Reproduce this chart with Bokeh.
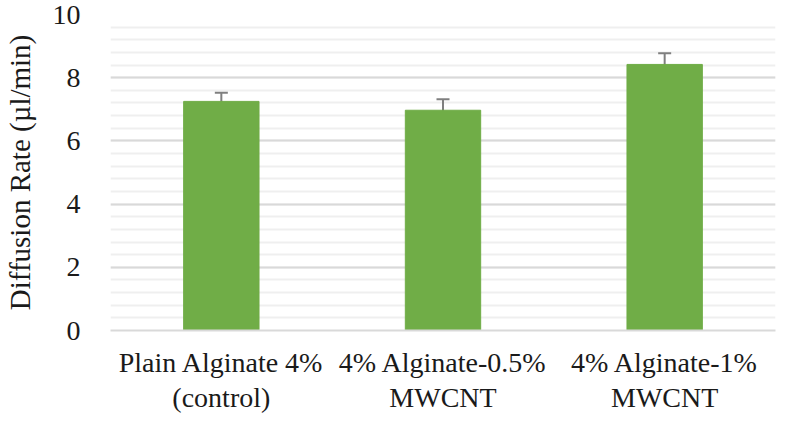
from bokeh.plotting import figure
from bokeh.models import Range1d, SingleIntervalTicker, FixedTicker, ColumnDataSource, Whisker, TeeHead, LinearAxis
from bokeh.embed import file_html
from bokeh.resources import INLINE

cat_line1 = ["Plain Alginate 4%", "4% Alginate-0.5%", "4% Alginate-1%"]
cat_line2 = ["(control)", "MWCNT", "MWCNT"]
values = [7.25, 6.97, 8.42]
errors = [0.27, 0.35, 0.35]

xs = list(range(len(cat_line1)))
src = ColumnDataSource(dict(
    x=xs, top=values,
    upper=[v + e for v, e in zip(values, errors)],
    lower=[v - e for v, e in zip(values, errors)],
))

FONT = "Liberation Serif"
TXT = "#1a1a1a"

p = figure(width=784, height=415, x_range=Range1d(-0.5, len(xs) - 0.5), y_range=Range1d(0, 10),
           output_backend="svg", toolbar_location=None,
           min_border_left=100, min_border_right=9, min_border_top=14, min_border_bottom=0)
p.outline_line_color = None
p.background_fill_color = "white"

p.vbar(x="x", top="top", width=0.34, source=src, color="#70AD47")
w = Whisker(base="x", upper="upper", lower="lower", source=src, line_color="#7F7F7F", line_width=2,
            upper_head=TeeHead(size=13, line_color="#7F7F7F", line_width=2),
            lower_head=TeeHead(size=13, line_color="#7F7F7F", line_width=2))
p.add_layout(w)

p.yaxis.ticker = SingleIntervalTicker(interval=2, num_minor_ticks=5)
p.ygrid.grid_line_color = "#D9D9D9"
p.ygrid.grid_line_width = 2
p.ygrid.minor_grid_line_color = "#EFEFEF"
p.ygrid.minor_grid_line_width = 2
p.xgrid.grid_line_color = None

p.yaxis.axis_line_color = None
p.yaxis.major_tick_line_color = None
p.yaxis.minor_tick_line_color = None
p.yaxis.major_label_text_font = FONT
p.yaxis.major_label_text_font_size = "28px"
p.yaxis.major_label_text_color = TXT
p.yaxis.major_label_standoff = 24
p.yaxis.axis_label = "Diffusion Rate (µl/min)"
p.yaxis.axis_label_text_font = FONT
p.yaxis.axis_label_text_font_size = "29px"
p.yaxis.axis_label_text_font_style = "normal"
p.yaxis.axis_label_text_color = TXT
p.yaxis.axis_label_standoff = 14

xa = p.xaxis[0]
xa.ticker = FixedTicker(ticks=xs)
xa.major_label_overrides = dict(zip(xs, cat_line1))
xa.axis_line_color = "#D9D9D9"
xa.axis_line_width = 2
xa.major_tick_line_color = None
xa.minor_tick_line_color = None
xa.major_label_text_font = FONT
xa.major_label_text_font_size = "28px"
xa.major_label_text_color = TXT
xa.major_label_standoff = 10

xa2 = LinearAxis(ticker=FixedTicker(ticks=xs), major_label_overrides=dict(zip(xs, cat_line2)),
                 axis_line_color=None, major_tick_line_color=None, minor_tick_line_color=None,
                 major_label_text_font=FONT, major_label_text_font_size="28px",
                 major_label_text_color=TXT, major_label_standoff=-5)
p.add_layout(xa2, "below")

open("out.html", "w").write(file_html(p, INLINE))
